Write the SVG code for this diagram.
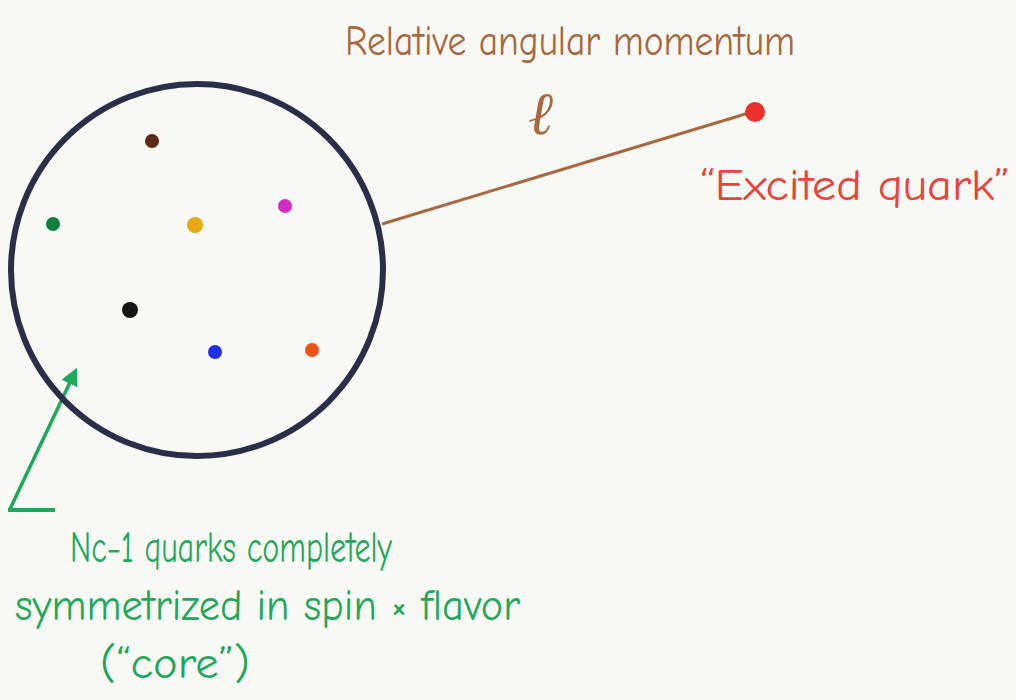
<svg xmlns="http://www.w3.org/2000/svg" width="1016" height="700" viewBox="0 0 1016 700">
<defs>
<style>
.hand{font-family:"Comic Neue","Liberation Sans","DejaVu Sans",sans-serif}
.brown{fill:#a8683f}
.red{fill:#e9433a}
.green{fill:#1ea85a}
.q{stroke:none}
</style>
<marker id="ga" viewBox="0 0 10 10" refX="6" refY="5" markerWidth="5" markerHeight="5" orient="auto" markerUnits="strokeWidth">
<path d="M0,0 L10,5 L0,10 z" fill="#1ea85a"/>
</marker>
</defs>
<rect width="1016" height="700" fill="#f8f8f4"/>
<g id="connectors">
<line id="l-link" x1="382" y1="224" x2="752" y2="112" stroke="#a8683f" stroke-width="3"/>
<line x1="8" y1="510" x2="55" y2="510" stroke="#1ea85a" stroke-width="4"/>
<line x1="10" y1="509" x2="74" y2="374" stroke="#1ea85a" stroke-width="3.5" marker-end="url(#ga)"/>
</g>
<g id="core">
<circle cx="197" cy="270" r="186" fill="none" stroke="#2b2e48" stroke-width="6"/>
<circle class="q" cx="152" cy="141" r="7" fill="#5a2a14"/>
<circle class="q" cx="53" cy="224" r="7" fill="#0f7f3f"/>
<circle class="q" cx="195" cy="225" r="8" fill="#e8a912"/>
<circle class="q" cx="285" cy="206" r="7" fill="#d22cc0"/>
<circle class="q" cx="130" cy="310" r="8" fill="#151515"/>
<circle class="q" cx="215" cy="352" r="7" fill="#1f2ee8"/>
<circle class="q" cx="312" cy="350" r="7" fill="#f2521a"/>
</g>
<g id="excited-quark">
<circle cx="755" cy="112" r="10" fill="#e9302a"/>
<text class="hand red" x="700" y="200" font-size="44" textLength="310" lengthAdjust="spacingAndGlyphs">“Excited quark”</text>
</g>
<g id="angular-momentum-label">
<text class="hand brown" x="345" y="55" font-size="42" textLength="450" lengthAdjust="spacingAndGlyphs">Relative angular momentum</text>
<text class="brown" x="528" y="134" font-size="60" font-family="'DejaVu Serif',serif" font-style="italic">ℓ</text>
</g>
<g id="core-label" class="hand green">
<text x="70" y="562" font-size="44" textLength="322" lengthAdjust="spacingAndGlyphs">Nc−1 quarks completely</text>
<text x="15" y="620" font-size="44" textLength="505" lengthAdjust="spacingAndGlyphs">symmetrized in spin × flavor</text>
<text x="100" y="678" font-size="44" textLength="150" lengthAdjust="spacingAndGlyphs">(“core”)</text>
</g>
</svg>
